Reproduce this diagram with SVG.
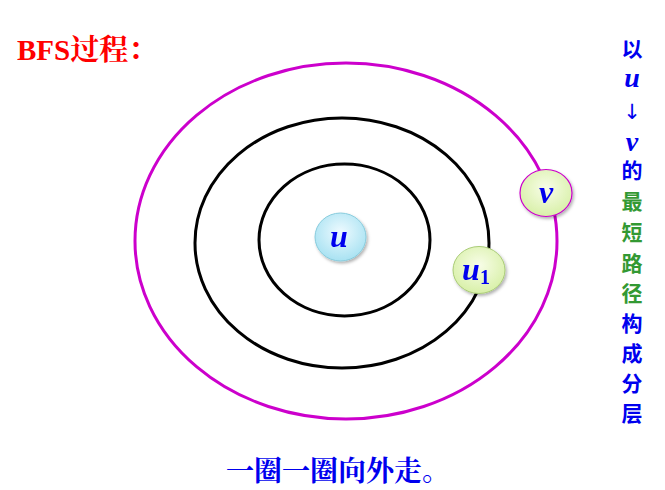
<svg xmlns="http://www.w3.org/2000/svg" width="665" height="490" viewBox="0 0 665 490">
<defs>
<radialGradient id="gb" cx="50%" cy="40%" r="60%">
<stop offset="0" stop-color="#eefaff"/><stop offset="1" stop-color="#a8e2f2"/>
</radialGradient>
<radialGradient id="gg" cx="50%" cy="40%" r="60%">
<stop offset="0" stop-color="#f8fde8"/><stop offset="1" stop-color="#d8f0a8"/>
</radialGradient>
<filter id="sh" x="-30%" y="-30%" width="160%" height="160%">
<feDropShadow dx="1.5" dy="2" stdDeviation="1.5" flood-color="#000" flood-opacity="0.3"/>
</filter>
</defs>
<style>
.ring{fill:none;stroke-width:3}
.lbl{font-family:"Liberation Serif","Noto Serif CJK SC","Noto Sans CJK SC",serif;font-weight:bold}
.var{font-family:"Liberation Serif",serif;font-style:italic;font-weight:bold;fill:#0000ee}
.col{font-family:"Liberation Serif","Noto Sans CJK SC",serif;font-weight:bold;font-size:21px;text-anchor:middle}
.b{fill:#0000ee}.g{fill:#339933}
</style>
<rect width="665" height="490" fill="#fff"/>
<g id="rings">
<ellipse class="ring" cx="346" cy="241" rx="211" ry="178" stroke="#cc00cc"/>
<ellipse class="ring" cx="342" cy="243" rx="147" ry="125" stroke="#000"/>
<ellipse class="ring" cx="344.5" cy="240" rx="85.5" ry="76" stroke="#000"/>
</g>
<g id="node-u" filter="url(#sh)">
<ellipse cx="340.5" cy="237" rx="25.5" ry="24" fill="url(#gb)" stroke="#88ccdd" stroke-width="1"/>
<text class="var" x="339" y="247" style="font-size:32px" text-anchor="middle">u</text>
</g>
<g id="node-u1" filter="url(#sh)">
<ellipse cx="479" cy="270" rx="26" ry="23.5" fill="url(#gg)" stroke="#aacc77" stroke-width="1"/>
<text class="var" x="476" y="280" style="font-size:32px" text-anchor="middle">u<tspan style="font-size:20px;font-style:normal" dy="4">1</tspan></text>
</g>
<g id="node-v" filter="url(#sh)">
<ellipse cx="546" cy="193" rx="26" ry="23.5" fill="url(#gg)" stroke="#cc00cc" stroke-width="1.2"/>
<text class="var" x="546" y="203" style="font-size:32px" text-anchor="middle">v</text>
</g>
<g id="connectors"></g>
<text class="lbl" x="17" y="60" style="font-size:29px" fill="#ff0000">BFS过程：</text>
<g id="side">
<text class="col b" x="632" y="56">以</text>
<text class="col b" x="632" y="87" style="font-style:italic;font-size:28px">u</text>
<text class="col b" x="632" y="119" style="font-family:'DejaVu Sans',sans-serif;font-weight:normal;font-size:21px">↓</text>
<text class="col b" x="632" y="151" style="font-style:italic;font-size:28px">v</text>
<text class="col b" x="632" y="178">的</text>
<text class="col g" x="632" y="209">最</text>
<text class="col g" x="632" y="240">短</text>
<text class="col g" x="632" y="271">路</text>
<text class="col g" x="632" y="301">径</text>
<text class="col b" x="632" y="331">构</text>
<text class="col b" x="632" y="361">成</text>
<text class="col b" x="632" y="391">分</text>
<text class="col b" x="632" y="421">层</text>
</g>
<text class="lbl" x="338" y="481" style="font-size:28px" fill="#0000ee" text-anchor="middle">一圈一圈向外走。</text>
</svg>
